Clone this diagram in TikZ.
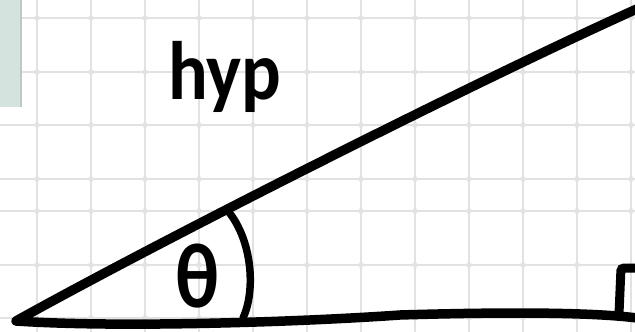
\documentclass[tikz,border=0pt]{standalone}
\usepackage{fontspec}
\newfontfamily\handfont{Carlito}
\definecolor{gridgray}{HTML}{E2E2E2}
\definecolor{tabgreen}{HTML}{D4E3DE}
\definecolor{tabedge}{HTML}{BCC9C5}
\begin{document}
\begin{tikzpicture}[x=1pt,y=-1pt,
  gridline/.style={draw=gridgray, line width=1.8pt},
  gridstar/.style={fill=gridgray},
  inkline/.style={draw=black, line width=9.5pt, line cap=round, line join=round},
  arcline/.style={draw=black, line width=7.5pt, line cap=round},
  marker/.style={draw=black, line width=9pt, line cap=butt, rounded corners=3pt},
  handtext/.style={inner sep=0pt, yscale=1.12, font=\handfont\bfseries\fontsize{74}{74}\selectfont},
  greektext/.style={inner sep=0pt, xscale=0.88, font=\handfont\bfseries\fontsize{92}{92}\selectfont}]
\useasboundingbox (0,0) rectangle (635,332);
\fill[white] (0,0) rectangle (635,332);
% grid
\foreach \x in {37,91,...,631} \draw[gridline] (\x,0) -- (\x,332);
\foreach \y in {18,72,125,179,211,265,318} \draw[gridline] (0,\y) -- (635,\y);
\foreach \x in {37,91,...,631} \foreach \y in {18,72,125,179,211,265,318}
  \fill[gridstar] (\x-6,\y) .. controls (\x-1.2,\y-1.2) .. (\x,\y-6)
     .. controls (\x+1.2,\y-1.2) .. (\x+6,\y)
     .. controls (\x+1.2,\y+1.2) .. (\x,\y+6)
     .. controls (\x-1.2,\y+1.2) .. cycle;
% side tab
\fill[tabgreen] (0,0) rectangle (21,107);
\draw[tabedge, line width=1.2pt] (21,0) -- (21,107);
% triangle
\coordinate (A) at (16,321);
\coordinate (B) at (637,318);
\coordinate (C) at (639,8);
\draw[inkline] (C) .. controls (485,77) and (165,238) .. (A)
  .. controls (120,328) and (300,322) .. (400,315)
  .. controls (500,312) and (590,312) .. (B);
% angle arc
\coordinate (arcS) at (228,211);
\coordinate (arcE) at (243,318);
\draw[arcline] (arcS) .. controls (252,240) and (256,290) .. (arcE);
% right angle marker
\coordinate (mS) at (619,314);
\coordinate (mE) at (637,268);
\draw[marker] (mS) -- (621,268) -- (mE);
% labels
\node[handtext, anchor=base west] (hyp) at (168,99) {hyp};
\node[greektext, anchor=base] (theta) at (198,307) {θ};
\end{tikzpicture}
\end{document}
